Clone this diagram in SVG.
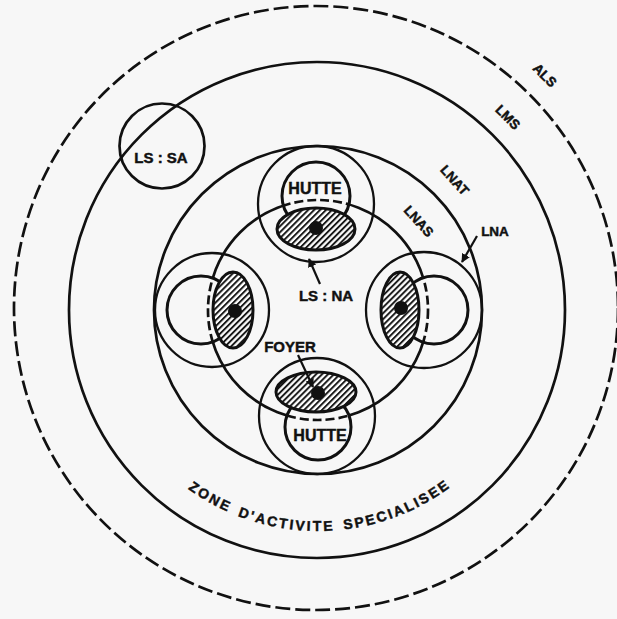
<svg xmlns="http://www.w3.org/2000/svg" width="617" height="619" viewBox="0 0 617 619">
<style>
.ln{fill:none;stroke:#111;stroke-width:2.7}
.thin{fill:none;stroke:#111;stroke-width:2.3}
.hut{fill:none;stroke:#111;stroke-width:3}
.pit{fill:url(#hatch);stroke:#111;stroke-width:3}
.dot{fill:#111}
.lbl{font-family:"Liberation Sans",Arial,sans-serif;font-weight:bold;fill:#111;stroke:#111;stroke-width:0.45}
.arr{fill:none;stroke:#111;stroke-width:2.2;marker-end:url(#ah)}
</style>
<defs>
<pattern id="hatch" width="4.2" height="10" patternUnits="userSpaceOnUse" patternTransform="rotate(45)">
<rect width="4.2" height="10" fill="#fff"/>
<line x1="1" y1="0" x2="1" y2="10" stroke="#111" stroke-width="1.9"/>
</pattern>
<marker id="ah" viewBox="0 0 10 10" refX="9" refY="5" markerWidth="4" markerHeight="4" orient="auto" markerUnits="strokeWidth">
<path d="M0,0 L10,5 L0,10 Z" fill="#111"/>
</marker>
<clipPath id="hutIn">
<circle cx="316" cy="196" r="34"/>
<circle cx="318" cy="427" r="33"/>
<circle cx="201" cy="310" r="34"/>
<circle cx="434" cy="310" r="34"/>
</clipPath>
<mask id="hutOut" maskUnits="userSpaceOnUse" x="0" y="0" width="617" height="619">
<rect width="617" height="619" fill="#fff"/>
<circle cx="316" cy="196" r="34" fill="#000"/>
<circle cx="318" cy="427" r="33" fill="#000"/>
<circle cx="201" cy="310" r="34" fill="#000"/>
<circle cx="434" cy="310" r="34" fill="#000"/>
</mask>
<path id="zoneArc" d="M175.9,479.3 A221,221 0 0 0 463,476.8"/>
</defs>
<rect width="617" height="619" fill="#f7f7f7"/>

<g id="als">
<circle cx="316" cy="308" r="302" class="ln" stroke-dasharray="15 5"/>
<text class="lbl" font-size="13.5" text-anchor="middle" transform="translate(545,75) rotate(45)" y="5">ALS</text>
</g>
<g id="lms">
<circle cx="317" cy="310" r="248" class="ln"/>
<text class="lbl" font-size="13.5" text-anchor="middle" transform="translate(508,117) rotate(45)" y="5">LMS</text>
</g>
<g id="zone-activite">
<text class="lbl" font-size="14" letter-spacing="2.2" word-spacing="3"><textPath href="#zoneArc" startOffset="50%" text-anchor="middle">ZONE D'ACTIVITE SPECIALISEE</textPath></text>
</g>
<g id="lnat">
<circle cx="318" cy="310" r="164" class="ln"/>
<text class="lbl" font-size="13.5" text-anchor="middle" transform="translate(455,180) rotate(48)" y="5">LNAT</text>
</g>
<g id="lnas">
<circle cx="318" cy="310" r="110" class="ln" mask="url(#hutOut)"/>
<circle cx="318" cy="310" r="110" class="ln" stroke-dasharray="9 4" clip-path="url(#hutIn)"/>
<text class="lbl" font-size="13.5" text-anchor="middle" transform="translate(419,221) rotate(48)" y="5">LNAS</text>
</g>
<g id="lna">
<text class="lbl" font-size="13.5" x="495" y="236" text-anchor="middle">LNA</text>
</g>
<g id="ls-sa">
<circle cx="162" cy="146" r="42.5" class="ln"/>
<text class="lbl" font-size="15" x="161" y="163" text-anchor="middle">LS : SA</text>
</g>

<g id="camp-top">
<circle cx="316" cy="204" r="58" class="thin"/>
<circle cx="316" cy="196" r="34" class="hut"/>
<ellipse cx="316" cy="229" rx="39" ry="21" class="pit"/>
<circle cx="316" cy="228" r="7" class="dot"/>
<text class="lbl" font-size="16" x="315" y="194" text-anchor="middle">HUTTE</text>
</g>
<g id="camp-bottom">
<circle cx="317" cy="416" r="58" class="thin"/>
<circle cx="318" cy="427" r="33" class="hut"/>
<ellipse cx="316" cy="392" rx="40" ry="20" class="pit"/>
<circle cx="318" cy="393" r="7" class="dot"/>
<text class="lbl" font-size="16" x="320" y="441" text-anchor="middle">HUTTE</text>
</g>
<g id="camp-left">
<circle cx="212" cy="310" r="57" class="thin"/>
<circle cx="201" cy="310" r="34" class="hut"/>
<ellipse cx="233" cy="310" rx="20" ry="38" class="pit"/>
<circle cx="235" cy="311" r="7" class="dot"/>
</g>
<g id="camp-right">
<circle cx="424" cy="310" r="58" class="thin"/>
<circle cx="434" cy="310" r="34" class="hut"/>
<ellipse cx="400" cy="310" rx="19" ry="38" class="pit"/>
<circle cx="401" cy="308" r="7" class="dot"/>
</g>

<g id="ls-na">
<text class="lbl" font-size="15" x="326" y="301" text-anchor="middle">LS : NA</text>
</g>
<g id="foyer">
<text class="lbl" font-size="15" x="290" y="352" text-anchor="middle">FOYER</text>
</g>

<g id="connectors">
<line x1="320" y1="284" x2="309" y2="259" class="arr"/>
<line x1="298" y1="355" x2="313" y2="387" class="arr"/>
<line x1="477" y1="236" x2="462" y2="262" class="arr"/>
</g>
</svg>
